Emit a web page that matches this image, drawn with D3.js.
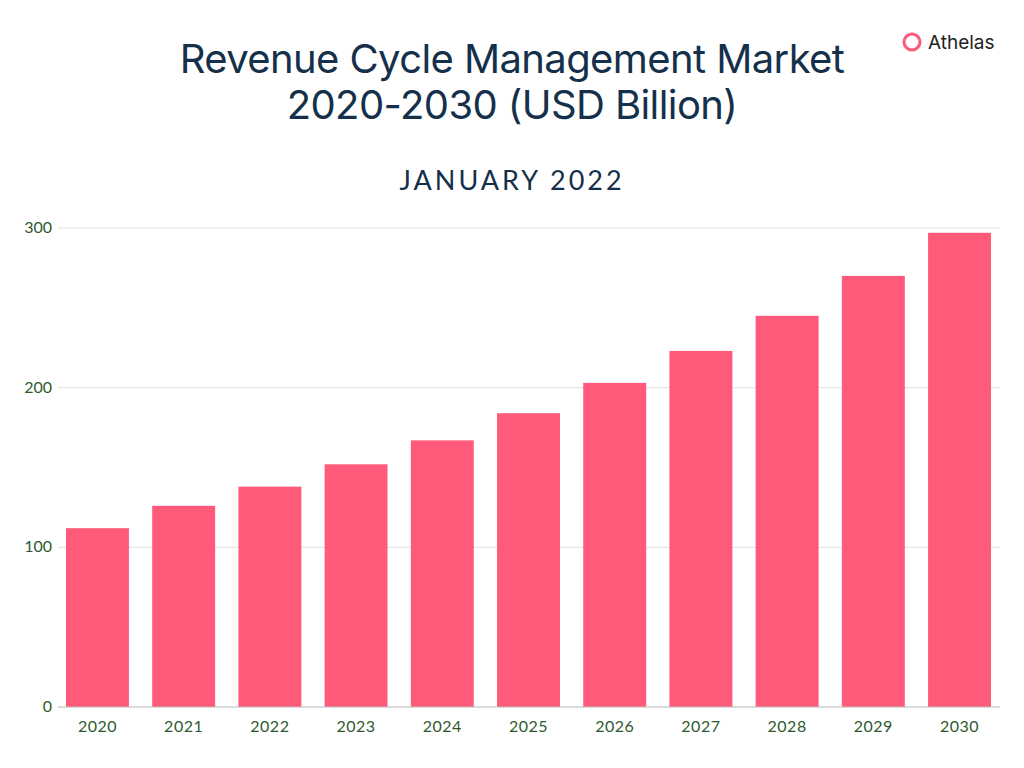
<!DOCTYPE html>
<html><head><meta charset="utf-8">
<script src="https://cdn.jsdelivr.net/npm/d3@7"></script>
<style>body{margin:0;background:#fff}</style>
</head><body><svg id="c" width="1024" height="768"></svg>
<script>
// chart data
var years = ["2020","2021","2022","2023","2024","2025","2026","2027","2028","2029","2030"]
var revenue = [112, 126, 138, 152, 167, 184, 203, 223, 245, 270, 297]
var yTicks = [0, 100, 200, 300]

var svg = d3.select('#c')
var x = d3.scaleBand().domain(years).range([66, 991]).paddingInner(0.27).paddingOuter(0)
var y = d3.scaleLinear().domain([0, 300]).range([707, 228])

svg.append('text').attr('x', 512).attr('y', 73).attr('text-anchor', 'middle')
    .attr('font-family', 'Inter, sans-serif').attr('font-size', 40).attr('fill', '#14304a')
    .attr('letter-spacing', -0.6).text('Revenue Cycle Management Market')
svg.append('text').attr('x', 512).attr('y', 119).attr('text-anchor', 'middle')
    .attr('font-family', 'Inter, sans-serif').attr('font-size', 40).attr('fill', '#14304a')
    .attr('letter-spacing', -0.6).text('2020-2030 (USD Billion)')
svg.append('text').attr('x', 512).attr('y', 190).attr('text-anchor', 'middle')
    .attr('font-family', 'Lato, sans-serif').attr('font-size', 27).attr('fill', '#14304a')
    .attr('letter-spacing', 3).text('JANUARY 2022')

// logo
svg.append('circle').attr('cx', 912).attr('cy', 42).attr('r', 8)
    .attr('fill', 'none').attr('stroke', '#ff5a7a').attr('stroke-width', 3)
svg.append('text').attr('x', 928).attr('y', 49).attr('font-family', 'Inter, sans-serif')
    .attr('font-size', 19).attr('fill', '#222').text('Athelas')

svg.append('g').selectAll('line').data(yTicks.slice(1)).join('line')
    .attr('x1', 58).attr('x2', 1000).attr('y1', function (d) { return y(d) }).attr('y2', function (d) { return y(d) })
    .attr('stroke', '#e0e0e0')
svg.append('g').selectAll('text').data(yTicks).join('text')
    .attr('x', 52).attr('y', function (d) { return y(d) + 5 }).attr('text-anchor', 'end')
    .attr('font-family', 'Lato, sans-serif').attr('font-size', 16).attr('fill', '#2d5a2d')
    .text(function (d) { return d })

svg.append('g').selectAll('rect').data(revenue).join('rect')
    .attr('x', function (d, i) { return x(years[i]) }).attr('width', x.bandwidth())
    .attr('y', function (d) { return y(d) }).attr('height', function (d) { return y(0) - y(d) })
    .attr('fill', '#ff5a7a')

svg.append('line').attr('x1', 58).attr('x2', 1000).attr('y1', y(0)).attr('y2', y(0)).attr('stroke', '#b8b8b8')
svg.append('g').selectAll('text').data(years).join('text')
    .attr('x', function (d) { return x(d) + x.bandwidth() / 2 }).attr('y', 732).attr('text-anchor', 'middle')
    .attr('font-family', 'Lato, sans-serif').attr('font-size', 16).attr('fill', '#2d5a2d')
    .attr('letter-spacing', 0.5).text(function (d) { return d })
</script></body></html>
